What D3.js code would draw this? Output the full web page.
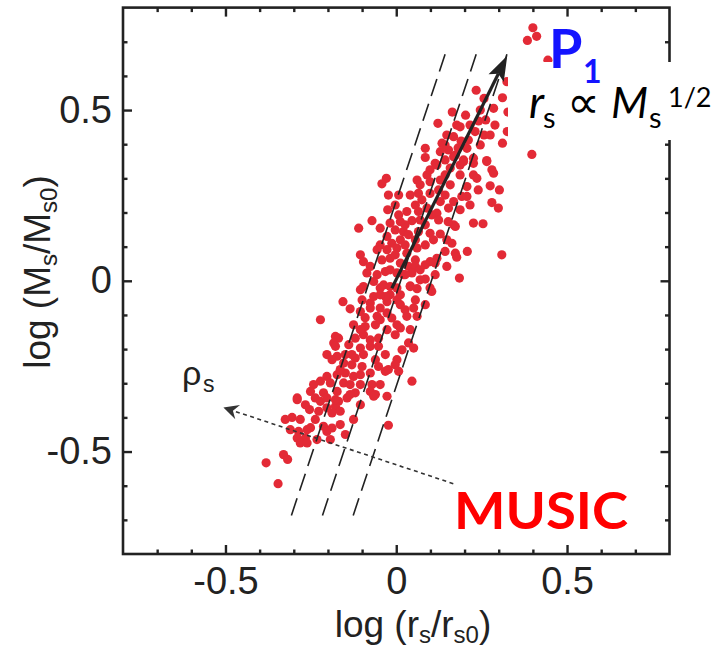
<!DOCTYPE html>
<html>
<head>
<meta charset="utf-8">
<script src="https://cdn.jsdelivr.net/npm/d3@7"></script>
<style>
  html, body { margin: 0; padding: 0; background: #fff; }
  svg { display: block; }
</style>
</head>
<body>
<svg id="chart" width="717" height="651"></svg>
<script>
// Axis ticks (both axes share the same range)
const majorTicks = [-0.5, 0, 0.5];
const minorTicks = [-0.7, -0.6, -0.4, -0.3, -0.2, -0.1, 0.1, 0.2, 0.3, 0.4, 0.6, 0.7];

// MUSIC clusters: [log(rs/rs0), log(Ms/Ms0)]
const musicPoints = [
  [0.400,0.741],[0.384,0.704],[0.411,0.716],[0.444,0.646],[0.324,0.583],[0.234,0.558],[0.311,0.536],[0.257,0.534],[0.285,0.505],[0.327,0.494],
  [0.122,0.461],[0.203,0.485],[0.177,0.456],[0.187,0.451],[0.216,0.456],[0.241,0.468],[0.262,0.471],[0.231,0.437],[0.257,0.427],[0.325,0.437],
  [0.148,0.427],[0.168,0.422],[0.190,0.409],[0.134,0.403],[0.207,0.388],[0.311,0.403],[0.085,0.388],[0.129,0.378],[0.153,0.383],[0.085,0.361],
  [0.114,0.344],[0.168,0.363],[0.197,0.354],[0.226,0.359],[0.265,0.352],[0.397,0.370],
  [-0.029,0.300],[-0.042,0.284],[-0.023,0.251],[0.007,0.251],[0.061,0.295],[0.090,0.310],[0.099,0.290],[0.119,0.339],[0.143,0.310],[0.158,0.330],
  [0.187,0.339],[0.197,0.349],[0.226,0.344],[0.187,0.310],[0.226,0.310],[0.236,0.300],[0.265,0.349],[0.280,0.325],[0.285,0.315],[0.275,0.278],
  [0.302,0.266],[0.207,0.276],[0.192,0.247],[0.207,0.247],[0.065,0.256],[0.075,0.237],[0.099,0.256],[0.124,0.266],[0.143,0.251],[0.129,0.232],
  [0.168,0.232],[0.153,0.213],[0.280,0.229],[0.299,0.213],[-0.025,0.208],[0.007,0.193],[0.031,0.203],[0.065,0.203],[0.090,0.213],[0.104,0.193],
  [0.119,0.198],[0.124,0.178],[-0.071,0.176],[-0.047,0.154],[-0.110,0.154],[-0.018,0.169],[0.012,0.173],[0.046,0.176],[0.070,0.178],[0.085,0.164],
  [0.168,0.164],[0.173,0.159],[0.226,0.169],[0.254,0.167],[-0.003,0.149],[0.021,0.144],[0.036,0.135],[0.012,0.120],[-0.027,0.130],[-0.013,0.110],
  [0.065,0.144],[0.099,0.139],[0.109,0.120],[0.129,0.137],[0.148,0.120],[0.163,0.110],[-0.047,0.105],[-0.027,0.091],[-0.056,0.091],[-0.105,0.076],
  [0.002,0.096],[0.026,0.105],[0.061,0.096],[0.085,0.105],[0.031,0.081],[0.056,0.061],[0.143,0.086],[0.173,0.081],[0.177,0.069],[0.208,0.086],
  [0.309,0.076],[-0.096,0.056],[-0.076,0.042],[-0.042,0.061],[-0.018,0.066],[0.012,0.052],[0.036,0.042],[0.056,0.042],[0.119,0.066],[0.114,0.052],
  [0.099,0.056],[0.148,0.042],[-0.086,0.023],[-0.056,0.018],[-0.032,0.027],[0.002,0.023],[0.021,0.018],[0.046,0.023],[0.070,0.003],[0.085,0.005],
  [0.185,0.008],[-0.096,-0.017],[-0.066,-0.002],[-0.037,-0.012],[0.041,-0.015],[0.099,-0.021],
  [-0.105,-0.026],[-0.100,-0.056],[-0.076,-0.065],[-0.066,-0.046],[-0.047,-0.021],[-0.018,-0.017],[0.002,-0.021],[0.041,-0.017],[0.061,-0.023],[0.104,-0.031],
  [-0.156,-0.061],[-0.135,-0.082],[-0.222,-0.114],[-0.105,-0.090],[-0.076,-0.080],[-0.047,-0.080],[-0.027,-0.061],[-0.018,-0.041],[-0.032,-0.046],[0.002,-0.056],
  [0.012,-0.070],[0.056,-0.056],[0.051,-0.080],[0.085,-0.070],[-0.056,-0.104],[-0.027,-0.094],[-0.013,-0.109],[0.002,-0.129],[0.031,-0.104],[0.061,-0.104],
  [-0.125,-0.129],[-0.091,-0.134],[-0.061,-0.129],[-0.027,-0.143],[0.012,-0.138],[-0.178,-0.163],[-0.169,-0.168],[-0.120,-0.168],[-0.096,-0.158],[-0.076,-0.173],
  [-0.052,-0.168],[-0.183,-0.182],[-0.178,-0.192],[-0.139,-0.187],[-0.105,-0.197],[-0.076,-0.192],[-0.052,-0.192],[0.036,-0.182],[0.051,-0.197],[0.017,-0.202],
  [-0.203,-0.216],[-0.173,-0.221],[-0.130,-0.216],[-0.120,-0.226],[-0.096,-0.216],[-0.188,-0.231],[-0.154,-0.241],[-0.130,-0.246],[-0.100,-0.251],[-0.052,-0.251],
  [0.002,-0.231],[-0.003,-0.246],[-0.203,-0.280],[-0.173,-0.275],[-0.149,-0.270],[-0.125,-0.280],[-0.076,-0.270],[-0.032,-0.265],[-0.023,-0.260],[0.007,-0.265],
  [0.046,-0.294],[-0.242,-0.304],[-0.222,-0.294],[-0.193,-0.299],[-0.154,-0.299],[-0.135,-0.304],[-0.105,-0.304],[-0.071,-0.304],[-0.047,-0.304],[-0.251,-0.324],
  [-0.213,-0.328],[-0.173,-0.324],[-0.120,-0.328],[-0.076,-0.324],[-0.061,-0.333],[-0.027,-0.338],[-0.290,-0.343],[-0.237,-0.343],
  [-0.290,-0.348],[-0.222,-0.353],[-0.203,-0.343],[-0.169,-0.353],[-0.144,-0.343],[-0.105,-0.363],[-0.066,-0.338],[-0.254,-0.377],[-0.227,-0.382],[-0.203,-0.372],
  [-0.178,-0.368],[-0.164,-0.382],[-0.188,-0.387],[-0.305,-0.400],[-0.325,-0.406],[-0.125,-0.406],[-0.023,-0.423],[-0.213,-0.426],[-0.188,-0.431],[-0.203,-0.441],
  [-0.286,-0.441],[-0.261,-0.436],[-0.290,-0.460],[-0.266,-0.460],[-0.232,-0.465],[-0.281,-0.475],[-0.261,-0.475],[-0.330,-0.509],[-0.318,-0.523],[-0.381,-0.533],
  [-0.346,-0.594],
  [0.143,0.398],[0.173,0.368],[0.099,0.325],[0.129,0.295],[0.070,0.281],[0.041,0.251],[0.056,0.222],[-0.003,0.222],[0.026,0.164],[0.056,0.120],
  [-0.003,0.076],[0.085,0.047],[0.026,0.018],[0.070,0.032],[-0.018,0.032],[0.114,0.018],[-0.047,-0.041],[0.012,-0.041],[0.026,-0.085],
  [-0.047,-0.114],[-0.091,-0.108],[-0.003,-0.158],[-0.032,-0.216],[-0.105,-0.143],[-0.149,-0.216],[-0.061,-0.231],[-0.164,-0.260],[-0.105,-0.275],[-0.135,-0.333],
  [-0.178,-0.348],[-0.266,-0.363],[-0.237,-0.406],[-0.164,-0.421],[-0.149,-0.450],[-0.193,-0.465],[-0.251,-0.430],[-0.281,-0.406],[-0.310,-0.436],
  [0.041,-0.143],[0.152,0.173],[0.187,0.208],[0.216,0.222],[0.240,0.266],[0.158,0.281],[0.211,0.412],[0.181,0.389],
  [0.246,0.398],[0.275,0.427],[0.289,0.456],[0.246,0.500],[0.164,0.494],[0.143,0.354]
];

// Parallel constant-density guide lines: [x1, y1, x2, y2]
const guideLines = [
  [-0.307, -0.687, 0.149, 0.681],
  [-0.216, -0.687, 0.240, 0.681],
  [-0.126, -0.687, 0.330, 0.681]
];

// P1 direction (rs ∝ Ms^1/2) and density direction
const scalingArrow = [[-0.013, -0.022], [0.325, 0.659]];
const densityArrow = [[0.167, -0.594], [-0.506, -0.371]];

const svg = d3.select("#chart");
const x = d3.scaleLinear().domain([-0.8, 0.8]).range([123, 669.5]);
const y = d3.scaleLinear().domain([-0.8, 0.8]).range([554, 7.6]);

const ink = "#222";
const fmt = d => d === 0 ? "0" : String(d);

// scatter points
svg.append("g")
  .selectAll("circle")
  .data(musicPoints)
  .join("circle")
  .attr("cx", d => x(d[0]))
  .attr("cy", d => y(d[1]))
  .attr("r", 4.6)
  .attr("fill", "#e32a36");

// dashed guide lines
svg.append("g")
  .selectAll("line")
  .data(guideLines)
  .join("line")
  .attr("x1", d => x(d[0])).attr("y1", d => y(d[1]))
  .attr("x2", d => x(d[2])).attr("y2", d => y(d[3]))
  .attr("stroke", ink)
  .attr("stroke-width", 1.6)
  .attr("stroke-dasharray", "18,8");

// arrow with notched head, built in screen space from scaled ends
function arrow(g, pts, opt) {
  const x0 = x(pts[0][0]), y0 = y(pts[0][1]);
  const x1 = x(pts[1][0]), y1 = y(pts[1][1]);
  const L = Math.hypot(x1 - x0, y1 - y0);
  const ux = (x1 - x0) / L, uy = (y1 - y0) / L;
  const px = -uy, py = ux;
  const bx = x1 - opt.len * ux, by = y1 - opt.len * uy;
  const nx = x1 - (opt.len - opt.notch) * ux, ny = y1 - (opt.len - opt.notch) * uy;
  g.append("line")
    .attr("x1", x0).attr("y1", y0).attr("x2", nx).attr("y2", ny)
    .attr("stroke", opt.color).attr("stroke-width", opt.width)
    .attr("stroke-dasharray", opt.dash || null);
  g.append("path")
    .attr("d", `M${x1},${y1}L${bx + opt.half * px},${by + opt.half * py}L${nx},${ny}L${bx - opt.half * px},${by - opt.half * py}Z`)
    .attr("fill", opt.color);
}
const arrows = svg.append("g");
arrow(arrows, scalingArrow, { len: 25, half: 8.5, notch: 5, width: 3.2, color: ink });
arrow(arrows, densityArrow, { len: 15, half: 7.5, notch: 5, width: 1.6, color: "#333", dash: "4,3.5" });

// frame and inward ticks on all four sides
const axisStyle = g => {
  g.select(".domain").remove();
  g.selectAll(".tick line").attr("stroke", ink).attr("stroke-width", 2.4);
  g.selectAll(".tick text")
    .attr("fill", ink)
    .style("font-family", "'Liberation Sans', Arial, sans-serif")
    .style("font-size", "38px");
};
const axes = svg.append("g");
axes.append("g").attr("transform", "translate(0,554)")
  .call(d3.axisBottom(x).tickValues(majorTicks).tickSize(-9).tickPadding(13).tickFormat(fmt)).call(axisStyle);
axes.append("g").attr("transform", "translate(0,554)")
  .call(d3.axisBottom(x).tickValues(minorTicks).tickSize(-4.5).tickFormat("")).call(axisStyle);
axes.append("g").attr("transform", "translate(0,7.6)")
  .call(d3.axisTop(x).tickValues(majorTicks).tickSize(-9).tickFormat("")).call(axisStyle);
axes.append("g").attr("transform", "translate(0,7.6)")
  .call(d3.axisTop(x).tickValues(minorTicks).tickSize(-4.5).tickFormat("")).call(axisStyle);
axes.append("g").attr("transform", "translate(123,0)")
  .call(d3.axisLeft(y).tickValues(majorTicks).tickSize(-9).tickPadding(11).tickFormat(fmt)).call(axisStyle);
axes.append("g").attr("transform", "translate(123,0)")
  .call(d3.axisLeft(y).tickValues(minorTicks).tickSize(-4.5).tickFormat("")).call(axisStyle);
axes.append("g").attr("transform", "translate(669.5,0)")
  .call(d3.axisRight(y).tickValues(majorTicks).tickSize(-9).tickFormat("")).call(axisStyle);
axes.append("g").attr("transform", "translate(669.5,0)")
  .call(d3.axisRight(y).tickValues(minorTicks).tickSize(-4.5).tickFormat("")).call(axisStyle);
axes.append("rect")
  .attr("x", x(-0.8)).attr("y", y(0.8))
  .attr("width", x(0.8) - x(-0.8)).attr("height", y(-0.8) - y(0.8))
  .attr("fill", "none").attr("stroke", ink).attr("stroke-width", 2.6);

// axis titles
const sans = "'Liberation Sans', Arial, sans-serif";
const xt = svg.append("text")
  .attr("x", 413).attr("y", 637)
  .attr("text-anchor", "middle")
  .style("font-family", sans).style("font-size", "37px").attr("fill", ink);
xt.append("tspan").text("log (r");
xt.append("tspan").attr("dy", 6).style("font-size", "24px").text("s");
xt.append("tspan").attr("dy", -6).text("/r");
xt.append("tspan").attr("dy", 6).style("font-size", "24px").text("s0");
xt.append("tspan").attr("dy", -6).text(")");

const yt = svg.append("text")
  .attr("transform", "translate(49.5,272) rotate(-90)")
  .attr("text-anchor", "middle")
  .style("font-family", sans).style("font-size", "37px").attr("fill", ink);
yt.append("tspan").text("log (M");
yt.append("tspan").attr("dy", 7).style("font-size", "24px").text("s");
yt.append("tspan").attr("dy", -7).text("/M");
yt.append("tspan").attr("dy", 7).style("font-size", "24px").text("s0");
yt.append("tspan").attr("dy", -7).text(")");

// density label
svg.append("text").attr("x", 182).attr("y", 385)
  .style("font-family", sans).style("font-size", "34px").attr("fill", ink).text("ρ");
svg.append("text").attr("x", 203).attr("y", 392)
  .style("font-family", sans).style("font-size", "23px").attr("fill", ink).text("s");

// white panel behind the scaling relation
svg.append("rect").attr("x", 508).attr("y", 62).attr("width", 209).attr("height", 78).attr("fill", "#fff");

const hum = "Lato, 'Open Sans', sans-serif";
svg.append("text").attr("x", 549).attr("y", 67.5)
  .style("font-family", hum).style("font-weight", "bold").style("font-size", "54px")
  .attr("fill", "#1414ff").text("P");
svg.append("text").attr("x", 583).attr("y", 83)
  .style("font-family", hum).style("font-weight", "bold").style("font-size", "32px")
  .attr("fill", "#1414ff").text("1");

const rel = svg.append("g").attr("fill", "#000").style("font-family", hum);
rel.append("text").attr("x", 529).attr("y", 118).style("font-style", "italic").style("font-size", "44px").text("r");
rel.append("text").attr("x", 543).attr("y", 128).style("font-size", "29px").text("s");
rel.append("text").attr("x", 567).attr("y", 118).style("font-family", "'DejaVu Sans', sans-serif").style("font-size", "46px").text("∝");
rel.append("text").attr("x", 611).attr("y", 118).style("font-style", "italic").style("font-size", "43px").text("M");
rel.append("text").attr("x", 649).attr("y", 128).style("font-size", "29px").text("s");
rel.append("text").attr("x", 668).attr("y", 107).style("font-size", "27px").text("1/2");

svg.append("text").attr("x", 454).attr("y", 529)
  .attr("textLength", 174).attr("lengthAdjust", "spacingAndGlyphs")
  .style("font-family", hum).style("font-weight", "bold").style("font-size", "52px")
  .attr("fill", "#ff0000").text("MUSIC");
</script>
</body>
</html>
